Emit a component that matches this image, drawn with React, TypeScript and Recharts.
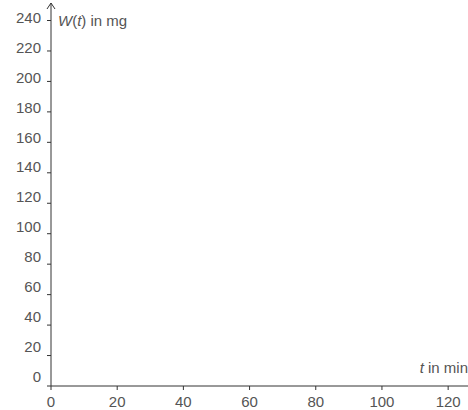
import { LineChart, Line, XAxis, YAxis, ReferenceDot } from 'recharts';

const xTicks = [0, 20, 40, 60, 80, 100, 120];
const yTicks = [0, 20, 40, 60, 80, 100, 120, 140, 160, 180, 200, 220, 240];
const series: { t: number; w: number }[] = [];

const textColor = '#555';
const axisColor = '#333';
const font = 'Arial, "Liberation Sans", sans-serif';

function YTick(props: any) {
  const { x, y, payload } = props;
  // labels sit a little above their tick, more so lower down
  const lift = 3 + 7 * (1 - payload.value / 240);
  return (
    <text x={x} y={y - lift} textAnchor="end" dominantBaseline="central" fill={textColor} fontSize={15} fontFamily={font}>
      {payload.value}
    </text>
  );
}

function XTick(props: any) {
  const { x, y, payload } = props;
  return (
    <text x={x} y={y + 15} textAnchor="middle" fill={textColor} fontSize={15} fontFamily={font}>
      {payload.value}
    </text>
  );
}

function Arrow(props: any) {
  const { cx, cy } = props;
  return (
    <path
      d={`M${cx - 4},${cy + 6} L${cx},${cy} L${cx + 4},${cy + 6}`}
      fill="none"
      stroke={axisColor}
      strokeWidth={1}
    />
  );
}

export default function App() {
  return (
    <div style={{ position: 'absolute', left: 0, top: 0, background: '#fff' }}>
      <LineChart width={468} height={410} data={series} margin={{ top: 3, right: 0, bottom: 0, left: 0 }}>
        <XAxis
          dataKey="t"
          type="number"
          domain={[0, 126]}
          ticks={xTicks}
          allowDataOverflow
          height={24}
          tickSize={4}
          tick={<XTick />}
          stroke={axisColor}
        />
        <YAxis
          type="number"
          domain={[0, 251.5]}
          ticks={yTicks}
          allowDataOverflow
          width={51}
          tickSize={4}
          tickMargin={6}
          tick={<YTick />}
          stroke={axisColor}
        />
        <ReferenceDot x={0} y={251.5} r={0} ifOverflow="visible" shape={<Arrow />} />
        <Line dataKey="w" isAnimationActive={false} dot={false} stroke="#000" />
        <text x={58} y={20} dominantBaseline="central" fill={textColor} fontSize={15} fontFamily={font}>
          <tspan fontStyle="italic">W</tspan>(<tspan fontStyle="italic">t</tspan>) in mg
        </text>
        <text x={468} y={367} textAnchor="end" dominantBaseline="central" fill={textColor} fontSize={15} fontFamily={font}>
          <tspan fontStyle="italic">t</tspan> in min
        </text>
      </LineChart>
    </div>
  );
}
